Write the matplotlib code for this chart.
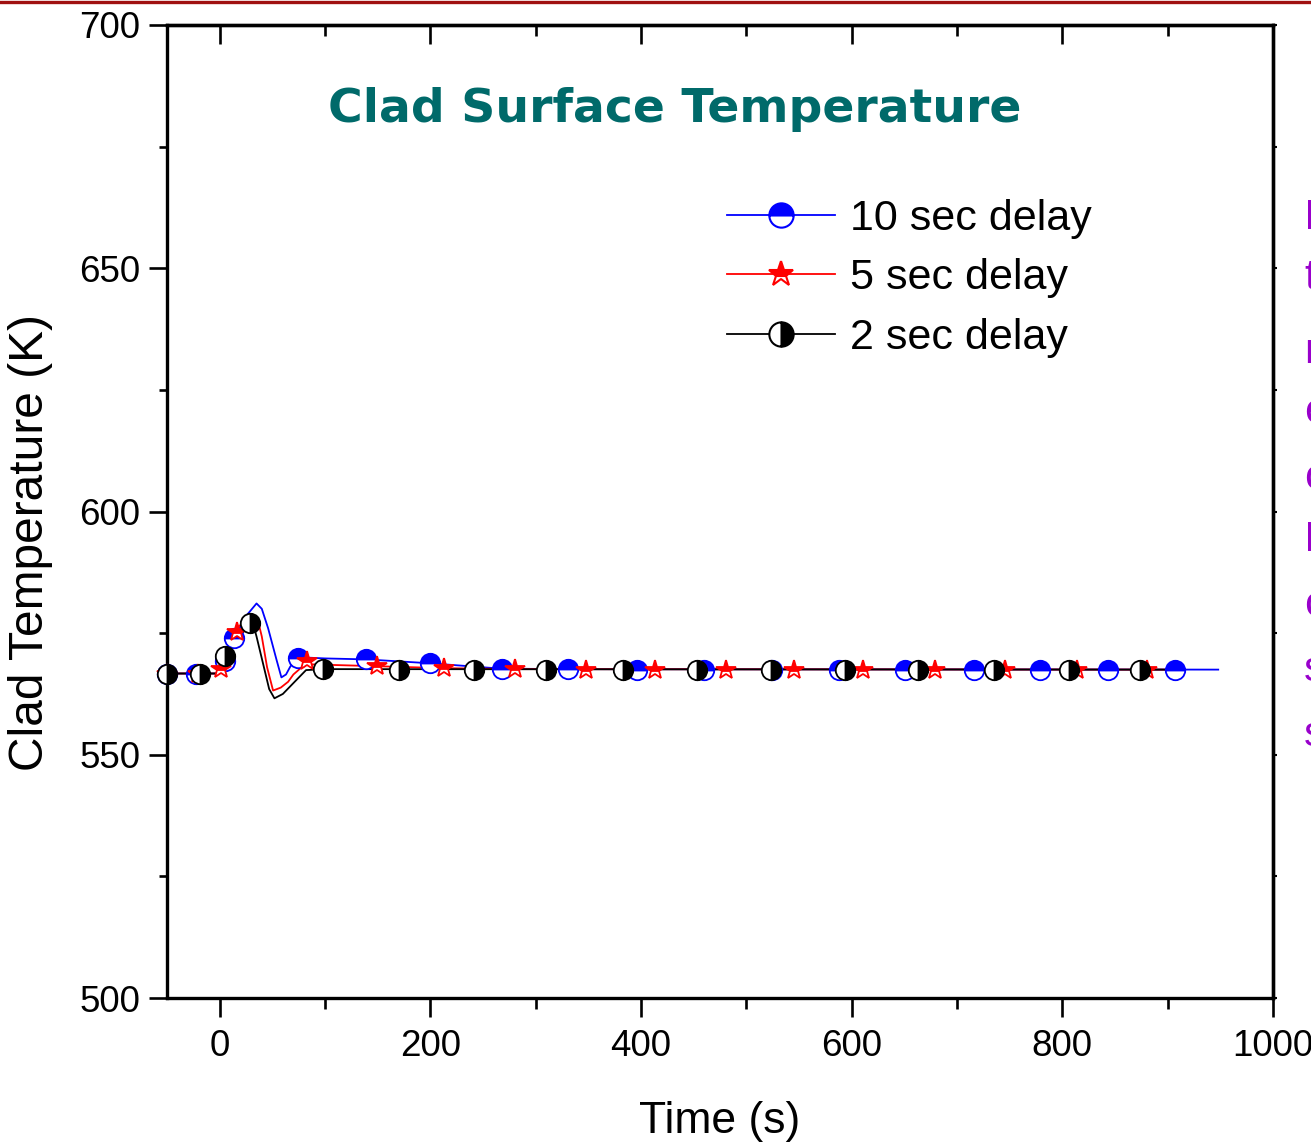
import numpy as np
import matplotlib
matplotlib.use("Agg")
import matplotlib.pyplot as plt
from matplotlib.lines import Line2D

plt.rcParams['font.family'] = ['Liberation Sans', 'DejaVu Sans']

### data
# 10 sec delay
t_10 = [-50, -1, 0, 5, 14, 25, 35, 40, 46, 54, 58.6, 63, 67, 73, 80, 100, 139, 200, 267, 330, 948]
T_10 = [566.7, 566.7, 567.4, 569.3, 574.0, 578.5, 581.1, 580.0, 576.0, 569.5, 565.9, 566.5, 568.1, 569.8, 570.0,
        569.8, 569.6, 568.8, 567.7, 567.6, 567.5]
tm_10 = [-50, -22, 5, 14, 74, 139, 200, 268, 331, 396, 460, 524, 588, 651, 716, 779, 843, 907]
Tm_10 = [566.7, 566.7, 569.3, 574.0, 569.8, 569.6, 568.8, 567.7, 567.6, 567.5, 567.5, 567.5, 567.5, 567.5,
         567.5, 567.5, 567.5, 567.5]

# 5 sec delay
t_5 = [-50, -1, 0, 5, 14, 25, 32, 37, 40, 45, 50.7, 58, 65, 70, 79, 83, 100, 149, 213, 280, 900]
T_5 = [566.7, 566.7, 567.4, 569.5, 575.3, 578.0, 578.8, 577.0, 574.3, 568.0, 563.2, 563.8, 565.0, 566.5, 568.2,
       568.6, 568.5, 568.2, 567.8, 567.6, 567.5]
tm_5 = [-50, -21, 1, 16, 83, 149, 213, 280, 348, 413, 481, 545, 611, 679, 746, 814, 880]
Tm_5 = [566.7, 566.7, 567.6, 575.3, 569.3, 568.2, 567.8, 567.6, 567.5, 567.5, 567.5, 567.5, 567.5, 567.5,
        567.5, 567.5, 567.5]

# 2 sec delay
t_2 = [-50, -1, 0, 5, 28.5, 31, 35, 42, 47, 52, 60, 73, 82, 100, 900]
T_2 = [566.7, 566.7, 567.4, 570.2, 577.0, 577.5, 574.3, 568.0, 563.5, 561.6, 562.5, 565.4, 567.4, 567.6, 567.5]
tm_2 = [-50, -19, 5, 28.5, 98, 170, 241, 310, 383, 453, 523, 594, 663, 735, 806, 874]
Tm_2 = [566.7, 566.7, 570.2, 577.0, 567.7, 567.5, 567.5, 567.5, 567.5, 567.5, 567.5, 567.5, 567.5, 567.5,
        567.5, 567.5]

labels = ['10 sec delay', '5 sec delay', '2 sec delay']
colors = ['#0000ff', '#ff0000', '#000000']
markers = ['o', '*', 'o']
fills = ['top', 'top', 'right']

side_lines = ['In', 'the', 'rise', 'event', 'cladding', 'It', 'cools', 'stable', 'state']


def main():
    W, H = 1311, 1147
    fig = plt.figure(figsize=(W / 100, H / 100), dpi=100)
    ax = fig.add_axes([167 / W, 1 - 998 / H, (1273 - 167) / W, (998 - 25) / H])

    series = [(t_10, T_10, tm_10, Tm_10), (t_5, T_5, tm_5, Tm_5), (t_2, T_2, tm_2, Tm_2)]
    handles = []
    for (t, T, tm, Tm), lab, c, m, fs in zip(series, labels, colors, markers, fills):
        ax.plot(t, T, '-', color=c, lw=1.3, zorder=2)
        ms = 15 if m == '*' else 14
        ax.plot(tm, Tm, ls='none', marker=m, ms=ms, mec=c, mfc=c, mfcalt='white',
                fillstyle=fs, mew=1.3, zorder=3, clip_on=False)
        handles.append(Line2D([], [], color=c, lw=1.3, marker=m, ms=ms * 1.25, mec=c, mfc=c,
                              mfcalt='white', fillstyle=fs, mew=1.5, label=lab))

    ax.set_xlim(-50, 1000)
    ax.set_ylim(500, 700)
    ax.set_xticks(np.arange(0, 1001, 200))
    ax.set_xticks(np.arange(100, 1000, 200), minor=True)
    ax.set_yticks(np.arange(500, 701, 50))
    ax.set_yticks(np.arange(525, 700, 50), minor=True)

    for s in ax.spines.values():
        s.set_linewidth(2.4)
    ax.tick_params(axis='x', which='major', direction='out', length=14, width=1.9, labelsize=26.5, pad=8)
    ax.tick_params(axis='x', which='minor', direction='out', length=8, width=1.9)
    ax.tick_params(axis='y', which='major', direction='out', length=13, width=1.9, labelsize=26.5, pad=6)
    ax.tick_params(axis='y', which='minor', direction='out', length=6, width=1.9)

    # top axis: inward ticks, right axis: small outward ticks
    top = ax.secondary_xaxis('top')
    top.set_xticks(np.arange(0, 1001, 200))
    top.set_xticks(np.arange(100, 1000, 200), minor=True)
    top.tick_params(which='major', direction='in', length=14, width=1.9, labeltop=False)
    top.tick_params(which='minor', direction='in', length=8, width=1.9)
    top.spines['top'].set_linewidth(2.4)
    right = ax.secondary_yaxis('right')
    right.set_yticks(np.arange(500, 701, 50))
    right.set_yticks(np.arange(525, 700, 50), minor=True)
    right.tick_params(which='both', direction='out', length=3, width=1.5, labelright=False)
    right.spines['right'].set_linewidth(2.4)

    ax.set_xlabel('Time (s)', fontsize=32)
    ax.xaxis.set_label_coords(0.5, -0.106)
    ax.set_ylabel('Clad Temperature (K)', fontsize=34.5)
    ax.yaxis.set_label_coords(-0.103, 0.468)

    fig.text(675 / W, 1 - 109 / H, 'Clad Surface Temperature', ha='center', va='center',
             fontsize=34, fontweight='bold', color='#006a6a', family='DejaVu Sans')

    ax.legend(handles=handles, loc='upper left', bbox_to_anchor=(727 / W, 1 - 199 / H),
              bbox_transform=fig.transFigure, frameon=False, fontsize=31, handlelength=2.5,
              handletextpad=0.35, labelspacing=0.45, borderpad=0, borderaxespad=0)

    # cut-off annotation on the right edge
    ys = [218, 278, 352, 412, 478, 540, 605, 670, 735]
    for y, s in zip(ys, side_lines):
        fig.text(1304 / W, 1 - y / H, s, ha='left', va='center', fontsize=31, color='#9900cc')

    # dark red rule at the top
    fig.add_artist(Line2D([0, 1], [1 - 1.5 / H, 1 - 1.5 / H], transform=fig.transFigure,
                          color='#a01010', lw=2.4))

    fig.savefig('out.png', dpi=100)


if __name__ == "__main__":
    main()
